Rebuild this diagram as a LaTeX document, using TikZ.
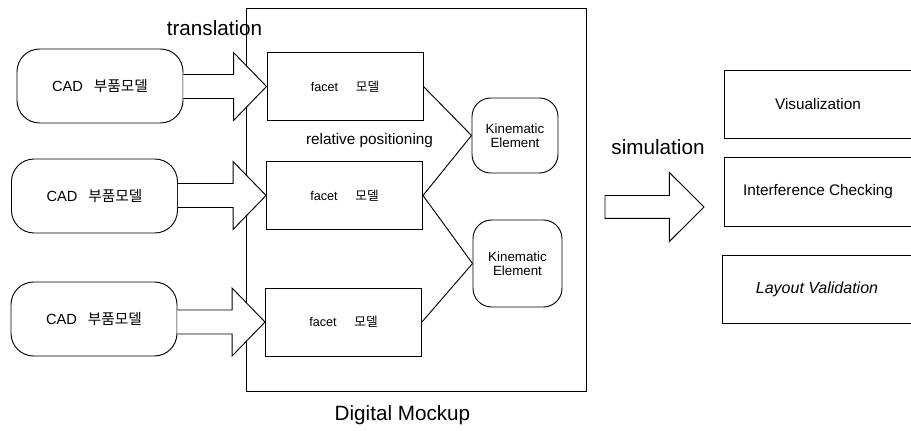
\documentclass[tikz,border=0pt]{standalone}
\usepackage{fontspec}
\setmainfont{Liberation Sans}
\newfontfamily\krfont{Noto Sans CJK KR}
\usetikzlibrary{calc}
% block arrow: #1 = tip point, #2 = point on the tail edge (open tail)
\newcommand\blockarr[2]{%
  \draw[blockarrow] let \p1=(#1), \p2=(#2) in
    (\x2,\y1+9pt) -- (\x1-24.75pt,\y1+9pt) -- (\x1-24.75pt,\y1+25.5pt) -- (\x1,\y1)
    -- (\x1-24.75pt,\y1-25.5pt) -- (\x1-24.75pt,\y1-9pt) -- (\x2,\y1-9pt);}
% block arrow with a closed tail
\newcommand\blockarrclosed[2]{%
  \draw[blockarrow] let \p1=(#1), \p2=(#2) in
    (\x2,\y1+8.6pt) -- (\x1-26pt,\y1+8.6pt) -- (\x1-26pt,\y1+25.9pt) -- (\x1,\y1)
    -- (\x1-26pt,\y1-25.9pt) -- (\x1-26pt,\y1-8.6pt) -- (\x2,\y1-8.6pt) -- cycle;}
\tikzset{
  every path/.style={line width=0.7pt},
  blockarrow/.style={draw=black, fill=white, line join=miter},
  cadbox/.style={draw, rounded corners=17pt, minimum width=124.5pt, minimum height=55.5pt,
    inner sep=0pt, font=\fontsize{11}{13}\selectfont},
  facetbox/.style={draw, minimum width=117pt, minimum height=51pt, inner sep=0pt,
    font=\fontsize{9.5}{11}\selectfont},
  kebox/.style={draw, rounded corners=14pt, inner sep=0pt, align=center,
    font=\fontsize{10}{10.5}\selectfont},
  resbox/.style={minimum width=139.5pt, minimum height=50.25pt, inner sep=0pt,
    font=\fontsize{11.5}{13}\selectfont},
  biglabel/.style={anchor=base, inner sep=0pt, font=\fontsize{15.5}{18}\selectfont},
  link/.style={draw}
}
\begin{document}
\begin{tikzpicture}[x=0.75pt, y=-0.75pt]
\useasboundingbox (0,0) rectangle (911,431);

% Digital Mockup frame
\node[draw, minimum width=255pt, minimum height=287.25pt, inner sep=0pt] (dmu) at (416,199.5) {};
\node[biglabel] (dmulabel) at (402.5,420) {Digital Mockup};

% CAD models
\node[cadbox] (cad1) at (100,86) {CAD\hspace{0.75em}{\krfont 부품모델}};
\node[cadbox] (cad2) at (94.5,196) {CAD\hspace{0.75em}{\krfont 부품모델}};
\node[cadbox] (cad3) at (94,319) {CAD\hspace{0.75em}{\krfont 부품모델}};

% facet models
\node[facetbox] (f1) at (345,86.5) {facet\hspace{1.4em}{\krfont 모델}};
\node[facetbox] (f2) at (344.5,195.5) {facet\hspace{1.4em}{\krfont 모델}};
\node[facetbox] (f3) at (343.5,322) {facet\hspace{1.4em}{\krfont 모델}};

% translation arrows
\blockarr{f1.west}{cad1.east}
\blockarr{f2.west}{cad2.east}
\blockarr{f3.west}{cad3.east}
\node[biglabel] (translab) at (214.5,36) {translation};

% kinematic elements
\node[kebox, minimum width=64.5pt, minimum height=56.25pt] (ke1) at (515,135.5) {Kinematic\\Element};
\node[kebox, minimum width=66.75pt, minimum height=65.25pt] (ke2) at (517.5,263.5) {Kinematic\\Element};
\node[anchor=base, inner sep=0pt, font=\fontsize{11.5}{13}\selectfont] (relpos) at (369.5,145) {relative positioning};

\draw[link] (f1.east) -- (ke1.west);
\draw[link] (f2.east) -- (ke1.west);
\draw[link] (f2.east) -- (ke2.west);
\draw[link] (f3.east) -- (ke2.west);

% simulation arrow
\coordinate (simtail) at (605,207);
\coordinate (simtip) at (704,207);
\blockarrclosed{simtip}{simtail}
\node[biglabel] (simlab) at (658,155) {simulation};

% result boxes (open on the right)
\node[resbox] (vis) at (818,104.5) {Visualization};
\node[resbox, minimum height=51pt] (intf) at (818,192) {Interference Checking};
\node[resbox, minimum width=141pt, font=\fontsize{12}{14}\selectfont\itshape] (lay) at (817,289.5) {Layout Validation};
\draw (vis.north east) -- (vis.north west) -- (vis.south west) -- (vis.south east);
\draw (intf.north east) -- (intf.north west) -- (intf.south west) -- (intf.south east);
\draw (lay.north east) -- (lay.north west) -- (lay.south west) -- (lay.south east);
\end{tikzpicture}
\end{document}
